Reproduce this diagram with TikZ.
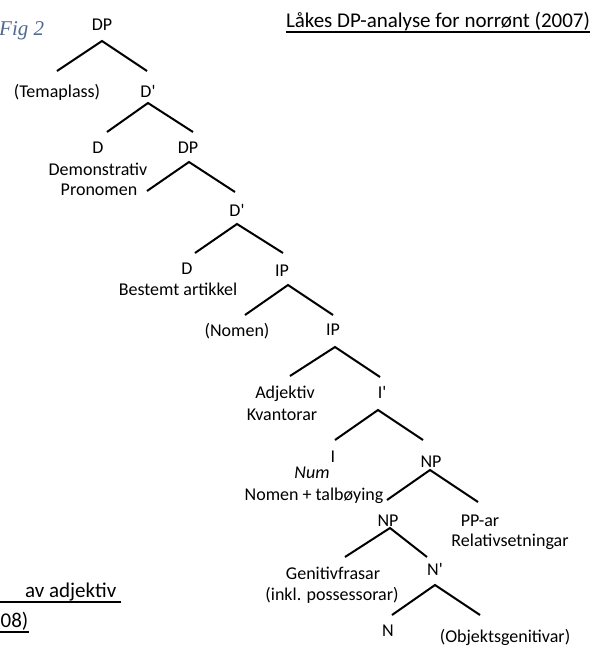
\documentclass[tikz,border=0pt]{standalone}
\usepackage{fontspec}
\setmainfont{Carlito}
\newfontfamily\figfont{Liberation Serif}
\definecolor{figblue}{HTML}{4F6A8C}
\newcommand\pr{\textquotesingle}
\begin{document}
\begin{tikzpicture}[x=1pt,y=-1pt,
  lbl/.style={anchor=base,inner sep=0pt,font=\fontsize{18}{22}\selectfont},
  branch/.style={line width=2pt,black},
  head/.style={anchor=base,inner sep=0pt,font=\fontsize{21}{25}\selectfont},
  ul/.style={line width=1.5pt}]
\useasboundingbox (0,0) rectangle (605,648);

% headings
\node[anchor=base west,inner sep=0pt,text=figblue,font=\figfont\itshape\fontsize{21}{25}\selectfont] (fig) at (-1,35) {Fig 2};
\node[head] (title) at (438,27) {Låkes DP-analyse for norrønt (2007)};
\draw[ul] ([yshift=-5pt]title.base west) -- ([yshift=-5pt]title.base east);
\node[head,anchor=base west] (adj) at (25,597) {av adjektiv};
\coordinate (adjul) at (0,602);
\draw[ul] (adjul) -- ([xshift=4pt,yshift=-5pt]adj.base east);
\node[head,anchor=base west] (year) at (0.5,627) {08)};
\coordinate (yearul) at (0,632);
\draw[ul] (yearul) -- ([yshift=-5pt]year.base east);

% tree labels
\node[lbl] (dp1) at (102,30) {DP};
\node[lbl] (tema) at (57,97) {(Temaplass)};
\node[lbl] (db1) at (148,97) {D\pr};
\node[lbl] (d1) at (98,153) {D};
\node[lbl] (dp2) at (188,153) {DP};
\node[lbl] (dem) at (98,175) {Demonstrativ};
\node[lbl] (pron) at (99,195) {Pronomen};
\node[lbl] (db2) at (237,216) {D\pr};
\node[lbl] (d2) at (187,274) {D};
\node[lbl] (ip1) at (282,276) {IP};
\node[lbl] (best) at (178,295) {Bestemt artikkel};
\node[lbl] (nom) at (237,336) {(Nomen)};
\node[lbl] (ip2) at (333,335) {IP};
\node[lbl] (adjk) at (285,398) {Adjektiv};
\node[lbl] (ib) at (382,398) {I\pr};
\node[lbl] (kv) at (282,420) {Kvantorar};
\node[lbl] (i) at (333,462) {I};
\node[lbl] (np1) at (431,467) {NP};
\node[lbl,font=\itshape\fontsize{18}{22}\selectfont] (num) at (312,478) {Num};
\node[lbl] (tal) at (314,500) {Nomen + talbøying};
\node[lbl] (np2) at (388,526) {NP};
\node[lbl] (pp) at (480,526) {PP-ar};
\node[lbl] (rel) at (510,546) {Relativsetningar};
\node[lbl] (gen) at (333,579) {Genitivfrasar};
\node[lbl] (nb) at (435,575) {N\pr};
\node[lbl] (inkl) at (332,600) {(inkl. possessorar)};
\node[lbl] (n) at (388,636) {N};
\node[lbl] (obj) at (505,642) {(Objektsgenitivar)};

% branch points: apex, left foot, right foot
\coordinate (t1) at (102,41);  \coordinate (l1) at (57,71);   \coordinate (r1) at (147,71);
\coordinate (t2) at (148,103); \coordinate (l2) at (107,132); \coordinate (r2) at (193,132);
\coordinate (t3) at (189,162); \coordinate (l3) at (147,191); \coordinate (r3) at (235,192);
\coordinate (t4) at (237,224); \coordinate (l4) at (195,253); \coordinate (r4) at (283,253);
\coordinate (t5) at (288,285); \coordinate (l5) at (245,315); \coordinate (r5) at (333,315);
\coordinate (t6) at (335,347); \coordinate (l6) at (290,376); \coordinate (r6) at (380,377);
\coordinate (t7) at (378,410); \coordinate (l7) at (335,440); \coordinate (r7) at (423,440);
\coordinate (t8) at (430,470); \coordinate (l8) at (387,500); \coordinate (r8) at (478,502);
\coordinate (t9) at (390,528); \coordinate (l9) at (345,557); \coordinate (r9) at (427,557);
\coordinate (t10) at (435,585); \coordinate (l10) at (392,615); \coordinate (r10) at (480,615);

\foreach \k in {1,...,10}{
  \draw[branch] (l\k) -- (t\k) -- (r\k);
}
\end{tikzpicture}
\end{document}
